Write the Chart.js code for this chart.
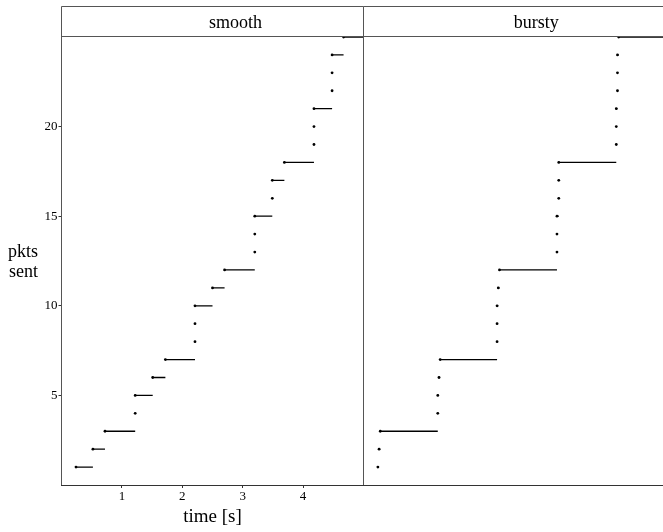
<!DOCTYPE html>
<html>
<head>
<meta charset="utf-8">
<script src="https://cdn.jsdelivr.net/npm/chart.js@4.4.1/dist/chart.umd.min.js"></script>
<style>
body { margin: 0; background: #fff; }
#wrap { position: relative; width: 663px; height: 532px; }
.panel { position: absolute; top: 0; }
</style>
</head>
<body>
<div id="wrap">
  <div class="panel" style="left:0px"><canvas id="smooth" width="365" height="532"></canvas></div>
  <div class="panel" style="left:363px"><canvas id="bursty" width="300" height="532"></canvas></div>
</div>
<script>
// packets sent (y) and the time each one left (x)
const packets = [1, 2, 3, 4, 5, 6, 7, 8, 9, 10, 11, 12, 13, 14, 15, 16, 17, 18, 19, 20, 21, 22, 23, 24, 25]
const smoothTimes = [0.24, 0.52, 0.72, 1.22, 1.22, 1.51, 1.72, 2.21, 2.21, 2.21, 2.50, 2.70, 3.20, 3.20, 3.20,
                     3.49, 3.49, 3.69, 4.18, 4.18, 4.18, 4.48, 4.48, 4.48, 4.67]
const burstyTimes = [0.24, 0.26, 0.28, 1.24, 1.24, 1.26, 1.28, 2.23, 2.23, 2.23, 2.25, 2.27, 3.23, 3.23, 3.23,
                     3.26, 3.26, 3.26, 4.22, 4.22, 4.22, 4.24, 4.24, 4.24, 4.26]
const xTicks = [1, 2, 3, 4]
const yTicks = [5, 10, 15, 20]
const X_MAX = 5
const Y_MAX = 25

const FONT = "'Liberation Serif', 'DejaVu Serif', serif"

// flat steps: each packet count holds until the next send, no risers
function steps(times){
    var out = []
    for(let i = 0; i < times.length; i++)
    {
        var next = i + 1 < times.length ? times[i+1] : X_MAX
        out.push({x: times[i], y: packets[i]})
        out.push({x: next, y: packets[i]})
        out.push({x: next, y: null})
    }
    return out
}

function dots(times){
    return times.map((t, i) => ({x: t, y: packets[i]}))
}

const frame = {
    id: 'frame',
    afterDraw(chart, args, opts){
        var ctx = chart.ctx, a = chart.chartArea
        ctx.save()
        ctx.lineWidth = 1
        ctx.strokeStyle = '#555'
        ctx.beginPath()
        ctx.moveTo(a.left, 6.5); ctx.lineTo(a.right, 6.5)
        ctx.moveTo(a.left, 36.5); ctx.lineTo(a.right, 36.5)
        if(opts.leftLine){ ctx.moveTo(a.left, 6.5); ctx.lineTo(a.left, a.bottom) }
        if(opts.rightLine){ ctx.moveTo(a.right, 6.5); ctx.lineTo(a.right, a.bottom) }
        ctx.stroke()
        ctx.fillStyle = '#000'
        ctx.font = `18px ${FONT}`
        ctx.textAlign = 'center'
        ctx.textBaseline = 'alphabetic'
        ctx.fillText(opts.strip, (a.left + a.right) / 2 + 23, 28)
        if(opts.labels)
        {
            ctx.textAlign = 'right'
            ctx.fillText('pkts', 38, 257)
            ctx.fillText('sent', 38, 277)
            ctx.textAlign = 'center'
            ctx.font = `19px ${FONT}`
            ctx.fillText('time [s]', (a.left + a.right) / 2, 522)
        }
        ctx.restore()
    }
}

function chartRender(id, times, strip, first)
{
    return new Chart(document.getElementById(id), {
        type: 'scatter',
        data: {
            datasets: [{
                data: steps(times),
                showLine: true,
                spanGaps: false,
                borderColor: '#000',
                borderWidth: 1.3,
                pointRadius: 0
            }, {
                data: dots(times),
                showLine: false,
                pointRadius: 1.4,
                pointBackgroundColor: '#000',
                pointBorderWidth: 0
            }]
        },
        options: {
            responsive: false,
            animation: false,
            devicePixelRatio: 1,
            layout: { autoPadding: false, padding: { top: 37, left: first ? 0 : 0.5, right: first ? 1.5 : 0, bottom: 0 } },
            plugins: {
                legend: { display: false },
                tooltip: { enabled: false },
                frame: { strip: strip, labels: first, leftLine: first, rightLine: first }
            },
            scales: {
                x: {
                    type: 'linear',
                    min: 0,
                    max: X_MAX,
                    afterBuildTicks: (s) => { s.ticks = xTicks.map(v => ({value: v})) },
                    afterFit: (s) => { s.height = 47; s.paddingLeft = 0; s.paddingRight = 0 },
                    grid: { drawOnChartArea: false, drawTicks: first, tickLength: 3, color: '#333' },
                    border: { display: true, color: '#333', width: 1 },
                    ticks: { display: first, color: '#000', padding: 1, font: { family: FONT, size: 13 } }
                },
                y: {
                    type: 'linear',
                    min: 0,
                    max: Y_MAX,
                    display: first,
                    afterBuildTicks: (s) => { s.ticks = yTicks.map(v => ({value: v})) },
                    afterFit: (s) => { s.width = first ? 61.5 : 0; s.paddingTop = 0; s.paddingBottom = 0 },
                    grid: { drawOnChartArea: false, drawTicks: true, tickLength: 3, color: '#333' },
                    border: { display: false },
                    ticks: { color: '#000', padding: 1, font: { family: FONT, size: 13 } }
                }
            }
        },
        plugins: [frame]
    })
}

chartRender('smooth', smoothTimes, 'smooth', true)
chartRender('bursty', burstyTimes, 'bursty', false)
</script>
</body>
</html>
